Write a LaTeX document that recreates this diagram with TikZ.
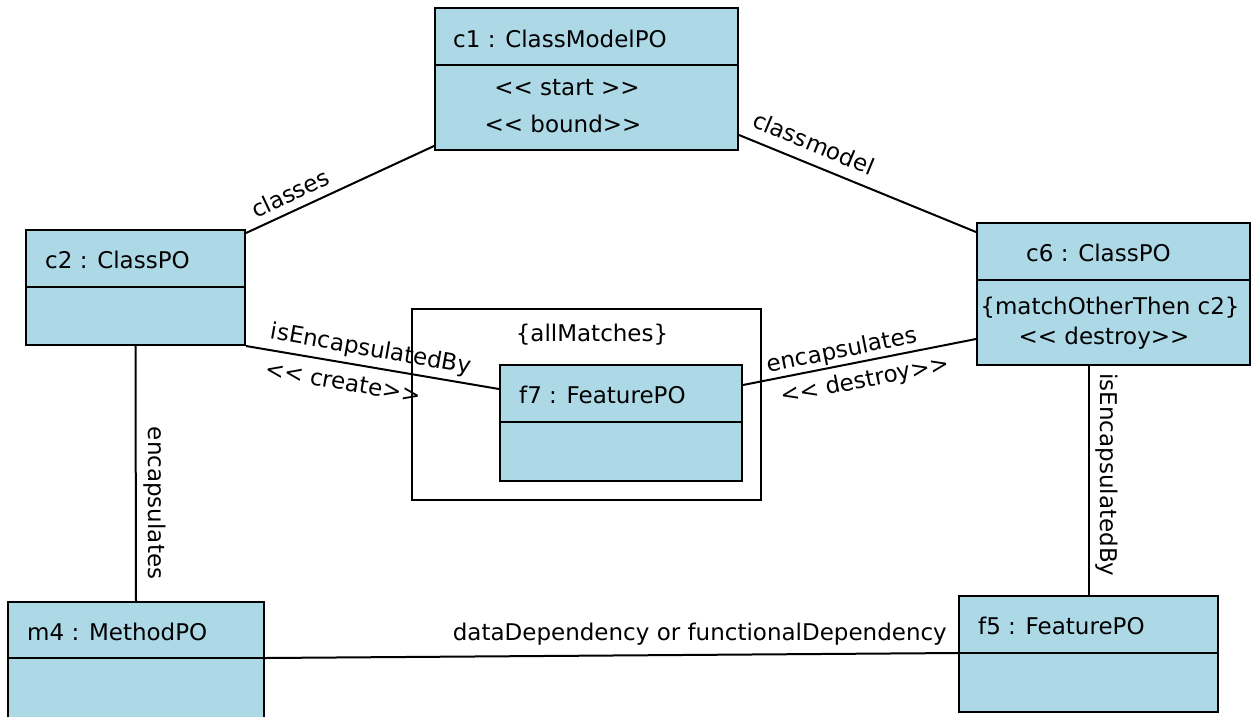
\documentclass[tikz,border=0pt]{standalone}
\usepackage{fontspec}
\setmainfont{DejaVu Sans}
\definecolor{boxblue}{HTML}{ADD8E6}
\newcommand\myll{<\kern0pt<}
\newcommand\mygg{>\kern0pt>}
\begin{document}
\begin{tikzpicture}[x=1pt,y=-1pt,
  cls/.style={draw=black, line width=2pt, fill=boxblue, rectangle, inner sep=0pt, anchor=north west},
  frm/.style={draw=black, line width=2pt, fill=white, rectangle, inner sep=0pt, anchor=north west},
  conn/.style={draw=black, line width=2pt},
  div/.style={draw=black, line width=2pt},
  lbl/.style={font=\fontsize{23}{27}\selectfont, inner sep=0pt, text=black}]
\useasboundingbox (0,0) rectangle (1255,716);
\clip (0,0) rectangle (1255,716);

% frame
\node[frm, minimum width=349pt, minimum height=191pt] (frame) at (411,308) {};

% boxes
\node[cls, minimum width=303pt, minimum height=142pt] (c1) at (434,7) {};
\node[cls, minimum width=219pt, minimum height=115pt] (c2) at (25,229) {};
\node[cls, minimum width=273pt, minimum height=142pt] (c6) at (976,222) {};
\node[cls, minimum width=242pt, minimum height=116pt] (f7) at (499,364) {};
\node[cls, minimum width=256pt, minimum height=140pt] (m4) at (7,601) {};
\node[cls, minimum width=259pt, minimum height=116pt] (f5) at (958,595) {};

% dividers
\draw[div] (c1.west |- 0,65) -- (c1.east |- 0,65);
\draw[div] (c2.west |- 0,287) -- (c2.east |- 0,287);
\draw[div] (c6.west |- 0,280) -- (c6.east |- 0,280);
\draw[div] (f7.west |- 0,422) -- (f7.east |- 0,422);
\draw[div] (m4.west |- 0,658) -- (m4.east |- 0,658);
\draw[div] (f5.west |- 0,653) -- (f5.east |- 0,653);

% connectors
\draw[conn] ([yshift=5pt]c1.south west) -- ([yshift=-4pt]c2.north east);
\draw[conn] ([yshift=16pt]c1.south east) -- ([yshift=-10pt]c6.north west);
\draw[conn] (c2.south east) -- ([yshift=-25pt]f7.north west);
\draw[conn] ([yshift=-21pt]f7.north east) -- ([yshift=27pt]c6.south west);
\draw[conn] (c2.south) -- (m4.north);
\draw[conn] ([xshift=-25pt]c6.south) -- (f5.north);
\draw[conn] ([yshift=-57pt]m4.north east) -- ([yshift=-58pt]f5.north west);

% titles
\node[lbl, anchor=base west] (t1) at (453,47) {c1 : ClassModelPO};
\node[lbl, anchor=base] (s1) at (567,95) {\myll{} start \mygg};
\node[lbl, anchor=base] (b1) at (563,132) {\myll{} bound\mygg};
\node[lbl, anchor=base west] (t2) at (45,268) {c2 : ClassPO};
\node[lbl, anchor=base west] (t6) at (1026,261) {c6 : ClassPO};
\node[lbl, anchor=base] (m6) at (1110,314) {\{matchOtherThen c2\}};
\node[lbl, anchor=base] (d6) at (1104,344) {\myll{} destroy\mygg};
\node[lbl, anchor=base] (am) at (592,341) {\{allMatches\}};
\node[lbl, anchor=base west] (t7) at (519,403) {f7 : FeaturePO};
\node[lbl, anchor=base west] (t4) at (27,640) {m4 : MethodPO};
\node[lbl, anchor=base west] (t5) at (978,634) {f5 : FeaturePO};

% connector labels
\node[lbl, rotate=25.3] (lc) at (290,193) {classes};
\node[lbl, rotate=-22.5] (lcm) at (814,143) {classmodel};
\node[lbl, rotate=-10] (lie) at (371,350) {isEncapsulatedBy};
\node[lbl, rotate=-10] (lcr) at (343,382) {\myll{} create\mygg};
\node[lbl, rotate=11.3] (len) at (842,351) {encapsulates};
\node[lbl, rotate=11.3] (lde) at (865,381) {\myll{} destroy\mygg};
\node[lbl, rotate=-90] (lenc) at (155,503) {encapsulates};
\node[lbl, rotate=-90] (lieb) at (1107,475) {isEncapsulatedBy};
\node[lbl, anchor=base east] (ldd) at (947,640) {dataDependency or functionalDependency};
\end{tikzpicture}
\end{document}
